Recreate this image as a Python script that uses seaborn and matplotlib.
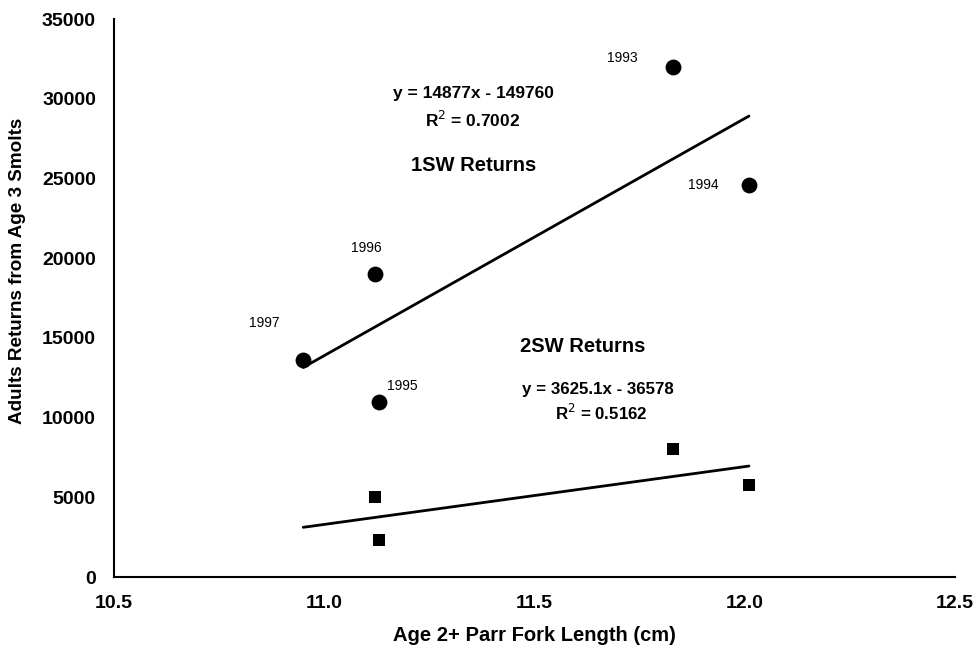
import numpy as np
import pandas as pd
import matplotlib
matplotlib.use("Agg")
import matplotlib.pyplot as plt
import seaborn as sns

# ---- data ----
years = [1993, 1994, 1995, 1996, 1997]
fork_length = [11.83, 12.01, 11.13, 11.12, 10.95]
returns_1sw = [32000, 24600, 11000, 19000, 13600]
returns_2sw = [8000, 5800, 2300, 5000, np.nan]

# trendline equations as printed on the chart
slope_1sw, intercept_1sw, r2_1sw = 14877, -149760, 0.7002
slope_2sw, intercept_2sw, r2_2sw = 3625.1, -36578, 0.5162

x_ticks = [10.5, 11.0, 11.5, 12.0, 12.5]
y_ticks = [0, 5000, 10000, 15000, 20000, 25000, 30000, 35000]

sns.set_theme(style="white")
plt.rcParams["font.family"] = ["Liberation Sans", "DejaVu Sans"]
plt.rcParams["text.color"] = "black"
plt.rcParams["axes.labelcolor"] = "black"
plt.rcParams["xtick.color"] = "black"
plt.rcParams["ytick.color"] = "black"

df = pd.DataFrame({"year": years, "x": fork_length, "sw1": returns_1sw, "sw2": returns_2sw})

fig = plt.figure(figsize=(9.74, 6.55), dpi=100)
ax = fig.add_axes([114 / 974, 1 - 577 / 655, (955 - 114) / 974, (577 - 19) / 655])

# trend lines across the range of fork lengths
xr = np.array([min(fork_length), max(fork_length)])
trend = pd.DataFrame({
    "x": np.concatenate([xr, xr]),
    "y": np.concatenate([slope_1sw * xr + intercept_1sw, slope_2sw * xr + intercept_2sw]),
    "s": ["1SW", "1SW", "2SW", "2SW"],
})
sns.lineplot(data=trend, x="x", y="y", units="s", estimator=None, color="black",
             linewidth=2.0, ax=ax, legend=False)

sns.scatterplot(data=df, x="x", y="sw1", marker="o", s=130, color="black",
                edgecolor="black", linewidth=0, ax=ax, zorder=3)
sns.scatterplot(data=df.dropna(), x="x", y="sw2", marker="s", s=70, color="black",
                edgecolor="black", linewidth=0, ax=ax, zorder=3)

# year labels (offsets in points)
offsets = {1993: (-26, 6, "right"), 1994: (-22, 0, "right"), 1995: (6, 11, "left"),
           1996: (-6, 19, "center"), 1997: (-17, 27, "right")}
for yr, xv, yv in zip(years, fork_length, returns_1sw):
    dx, dy, ha = offsets[yr]
    ax.annotate(str(yr), (xv, yv), xytext=(dx, dy), textcoords="offset points",
                ha=ha, va="center", fontsize=10, color="black")

ax.text(11.354, 30300, f"y = {slope_1sw}x - {-intercept_1sw}", fontsize=12.5,
        fontweight="bold", ha="center", va="center", color="black")
ax.text(11.354, 28650, f"R$^2$ = {r2_1sw:.4f}", fontsize=12.5,
        fontweight="bold", ha="center", va="center", color="black")
ax.text(11.356, 25780, "1SW Returns", fontsize=14.5, fontweight="bold",
        ha="center", va="center", color="black")
ax.text(11.615, 14427, "2SW Returns", fontsize=14.5, fontweight="bold",
        ha="center", va="center", color="black")
ax.text(11.651, 11730, f"y = {slope_2sw}x - {-intercept_2sw}", fontsize=12.2,
        fontweight="bold", ha="center", va="center", color="black")
ax.text(11.658, 10287, f"R$^2$ = {r2_2sw:.4f}", fontsize=12.2,
        fontweight="bold", ha="center", va="center", color="black")

ax.set_xlim(10.5, 12.5)
ax.set_ylim(0, 35000)
ax.set_xticks(x_ticks)
ax.set_xticklabels([f"{t:.1f}" for t in x_ticks])
ax.set_yticks(y_ticks)
ax.set_yticklabels([str(t) for t in y_ticks])
ax.tick_params(axis="both", direction="out", length=4, width=1.5, color="black",
               labelsize=14, labelcolor="black")
for lab in ax.get_xticklabels() + ax.get_yticklabels():
    lab.set_fontweight("bold")
ax.tick_params(axis="x", pad=9)
ax.tick_params(axis="y", pad=9)
ax.set_xlabel("Age 2+ Parr Fork Length (cm)", fontsize=14.5, fontweight="bold",
              labelpad=10, color="black")
ax.set_ylabel("Adults Returns from Age 3 Smolts", fontsize=13.6, fontweight="bold",
              color="black")
ax.yaxis.set_label_coords((26 - 114) / 841, 0.548)

for side in ["top", "right"]:
    ax.spines[side].set_visible(False)
for side in ["left", "bottom"]:
    ax.spines[side].set_color("black")
    ax.spines[side].set_linewidth(1.5)
ax.grid(False)

fig.savefig("out.png", dpi=100, facecolor="white")
